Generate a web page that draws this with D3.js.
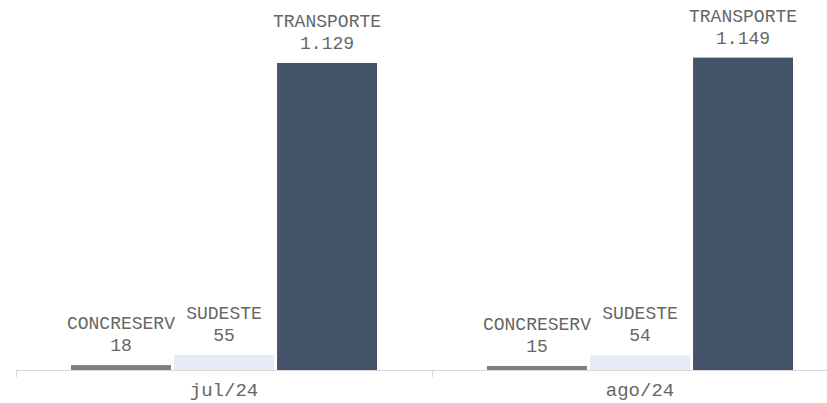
<!DOCTYPE html>
<html>
<head>
<meta charset="utf-8">
<script src="https://cdn.jsdelivr.net/npm/d3@7"></script>
<style>
  body { margin: 0; background: #ffffff; }
  text { font-family: "Liberation Mono", "Courier New", monospace; }
</style>
</head>
<body>
<div id="chart"></div>
<script>
// Dados do gráfico
var meses = ["jul/24", "ago/24"];
var series = ["CONCRESERV", "SUDESTE", "TRANSPORTE"];
var concreserv = [18, 15];
var sudeste = [55, 54];
var transporte = [1129, 1149];
var cores = ["#7f7f7f", "#e8eaf5", "#435369"];

var valores = [concreserv, sudeste, transporte];

var width = 827, height = 403;
var base = 370;

var svg = d3.select("#chart").append("svg")
    .attr("width", width)
    .attr("height", height);

var x0 = d3.scaleBand()
    .domain(meses)
    .range([16, 848]);

var x1 = d3.scaleBand()
    .domain(series)
    .range([55, 361])
    .paddingInner(0.03);

var y = d3.scaleLinear()
    .domain([0, 1200])
    .range([base, base - 1200 * 0.2719]);

var fmt = d3.formatLocale({ decimal: ",", thousands: ".", grouping: [3], currency: ["R$", ""] }).format(",d");

// Dados em formato de linhas
var linhas = [];
meses.forEach(function(m, i) {
    series.forEach(function(s, j) {
        linhas.push({ mes: m, serie: s, valor: valores[j][i], cor: cores[j] });
    });
});

svg.selectAll("rect.bar")
    .data(linhas)
    .enter()
    .append("rect")
    .attr("class", "bar")
    .attr("x", function(d) { return x0(d.mes) + x1(d.serie); })
    .attr("y", function(d) { return y(d.valor); })
    .attr("width", x1.bandwidth())
    .attr("height", function(d) { return base - y(d.valor); })
    .attr("fill", function(d) { return d.cor; });

// Rótulos acima das barras
var rot = svg.selectAll("g.rotulo")
    .data(linhas)
    .enter()
    .append("g")
    .attr("class", "rotulo")
    .attr("transform", function(d) {
        return "translate(" + (x0(d.mes) + x1(d.serie) + x1.bandwidth() / 2) + "," + y(d.valor) + ")";
    });

rot.append("text")
    .attr("y", -36)
    .attr("text-anchor", "middle")
    .style("font-size", "18px")
    .style("fill", "#666666")
    .text(function(d) { return d.serie; });

rot.append("text")
    .attr("y", -14)
    .attr("text-anchor", "middle")
    .style("font-size", "18px")
    .style("fill", "#666666")
    .text(function(d) { return fmt(d.valor); });

// Eixo x
svg.append("line")
    .attr("x1", 16).attr("x2", width)
    .attr("y1", base + 0.5).attr("y2", base + 0.5)
    .attr("stroke", "#d9d9d9");

var limites = meses.map(function(m) { return x0(m); });
svg.selectAll("line.tick")
    .data(limites)
    .enter()
    .append("line")
    .attr("class", "tick")
    .attr("x1", function(d) { return Math.round(d) + 0.5; })
    .attr("x2", function(d) { return Math.round(d) + 0.5; })
    .attr("y1", base)
    .attr("y2", base + 7)
    .attr("stroke", "#d9d9d9");

svg.selectAll("text.mes")
    .data(meses)
    .enter()
    .append("text")
    .attr("class", "mes")
    .attr("x", function(d) { return x0(d) + x0.bandwidth() / 2; })
    .attr("y", 396)
    .attr("text-anchor", "middle")
    .style("font-size", "19px")
    .style("fill", "#666666")
    .text(function(d) { return d; });
</script>
</body>
</html>
